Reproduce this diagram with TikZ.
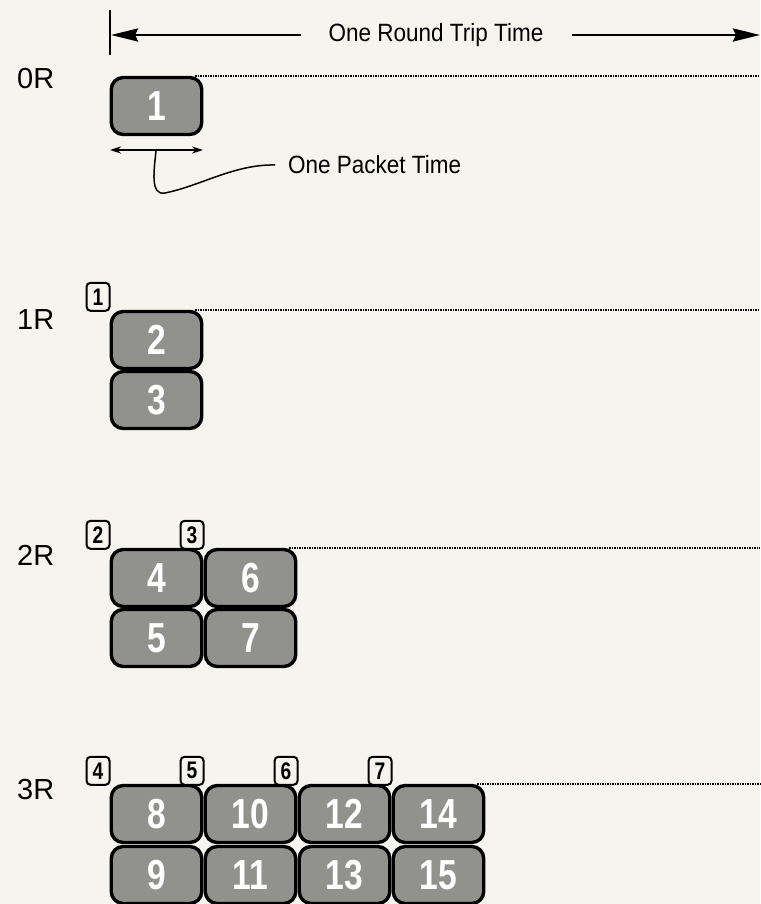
\documentclass[tikz,border=0pt]{standalone}
\usepackage{fontspec}
\setmainfont{Liberation Sans}
\newfontfamily\condf{Liberation Sans}[FakeStretch=0.9]
\newfontfamily\numf{Liberation Sans}[FakeStretch=0.8]
\usetikzlibrary{arrows.meta}
\definecolor{bg}{RGB}{245,244,238}
\definecolor{pktgray}{RGB}{145,145,142}
\begin{document}
\begin{tikzpicture}[x=1pt,y=-1pt,
  pkt/.style={draw=black, line width=3.4pt, rounded corners=12pt, fill=pktgray,
    minimum width=90.5pt, minimum height=57pt, inner sep=0pt, text=white,
    font=\numf\bfseries\fontsize{42}{42}\selectfont},
  marker/.style={draw=black, line width=2pt, rounded corners=4pt, fill=bg,
    minimum width=23pt, minimum height=28pt, inner sep=0pt, anchor=south east,
    font=\numf\bfseries\fontsize{24}{24}\selectfont},
  rowlab/.style={anchor=west, inner sep=0pt, font=\fontsize{29}{29}\selectfont},
  note/.style={inner sep=0pt, font=\condf\fontsize{25}{25}\selectfont},
  dotline/.style={line width=2pt, dash pattern=on 1.5pt off 1pt},
  bigarrow/.style={line width=2.8pt, -{Stealth[length=27pt,width=13pt,inset=3pt]}},
  smallarrow/.style={line width=1.8pt, {Stealth[length=11pt,width=7pt]}-{Stealth[length=11pt,width=7pt]}}
]
\fill[bg] (0,0) rectangle (760,904);
\useasboundingbox (0,0) rectangle (760,904);

% header
\coordinate (tickTop) at (110,10);
\coordinate (tickBot) at (110,55);
\draw[line width=2.2pt] (tickTop) -- (tickBot);
\node[note] (rtt) at (436,35) {One Round Trip Time};
\coordinate (tickL) at (111,35);
\coordinate (rightEnd) at (760,35);
\draw[bigarrow] ([xshift=-27pt]rtt.west) -- (tickL);
\draw[bigarrow] ([xshift=28pt]rtt.east) -- (rightEnd);

% row labels
\node[rowlab] (l0) at (17,79) {0R};
\node[rowlab] (l1) at (17,320) {1R};
\node[rowlab] (l2) at (17,555) {2R};
\node[rowlab] (l3) at (17,790) {3R};

% right-end coordinates for dotted lines
\coordinate (e0) at (760,75);
\coordinate (e1) at (760,312);
\coordinate (e2) at (760,548);
\coordinate (e3) at (760,786);

% row 0R
\node[pkt] (p1) at (156.5,106) {1};
\draw[dotline] ([xshift=-8pt]p1.north east) -- (p1.north east -| e0);
\coordinate (ptL) at (110,150);
\coordinate (ptR) at (203,150);
\draw[smallarrow] (ptL) -- (ptR);
\node[note, anchor=west] (pkttime) at (288,165) {One Packet Time};
\draw[line width=1.5pt] (156,151) .. controls (154,170) and (150,196) .. (165,193)
  .. controls (200,186) and (235,164) .. ([xshift=-13pt]pkttime.west);

% row 1R
\node[pkt] (p2) at (156.5,340) {2};
\node[pkt] (p3) at (156.5,400) {3};
\node[marker] (m1) at ([xshift=1pt,yshift=-2pt]p2.north west) {1};
\draw[dotline] ([xshift=-8pt]p2.north east) -- (p2.north east -| e1);

% row 2R
\node[pkt] (p4) at (156.5,578) {4};
\node[pkt] (p5) at (156.5,638) {5};
\node[pkt] (p6) at (250.5,578) {6};
\node[pkt] (p7) at (250.5,638) {7};
\node[marker] (m2) at ([xshift=1pt,yshift=-2pt]p4.north west) {2};
\node[marker] (m3) at ([xshift=1pt,yshift=-2pt]p6.north west) {3};
\draw[dotline] ([xshift=-8pt]p6.north east) -- (p6.north east -| e2);

% row 3R
\node[pkt] (p8)  at (156.5,814) {8};
\node[pkt] (p9)  at (156.5,875) {9};
\node[pkt] (p10) at (250.5,814) {10};
\node[pkt] (p11) at (250.5,875) {11};
\node[pkt] (p12) at (344.5,814) {12};
\node[pkt] (p13) at (344.5,875) {13};
\node[pkt] (p14) at (438.5,814) {14};
\node[pkt] (p15) at (438.5,875) {15};
\node[marker] (m4) at ([xshift=1pt,yshift=-2pt]p8.north west) {4};
\node[marker] (m5) at ([xshift=1pt,yshift=-2pt]p10.north west) {5};
\node[marker] (m6) at ([xshift=1pt,yshift=-2pt]p12.north west) {6};
\node[marker] (m7) at ([xshift=1pt,yshift=-2pt]p14.north west) {7};
\draw[dotline] ([xshift=-8pt]p14.north east) -- (p14.north east -| e3);
\end{tikzpicture}
\end{document}
